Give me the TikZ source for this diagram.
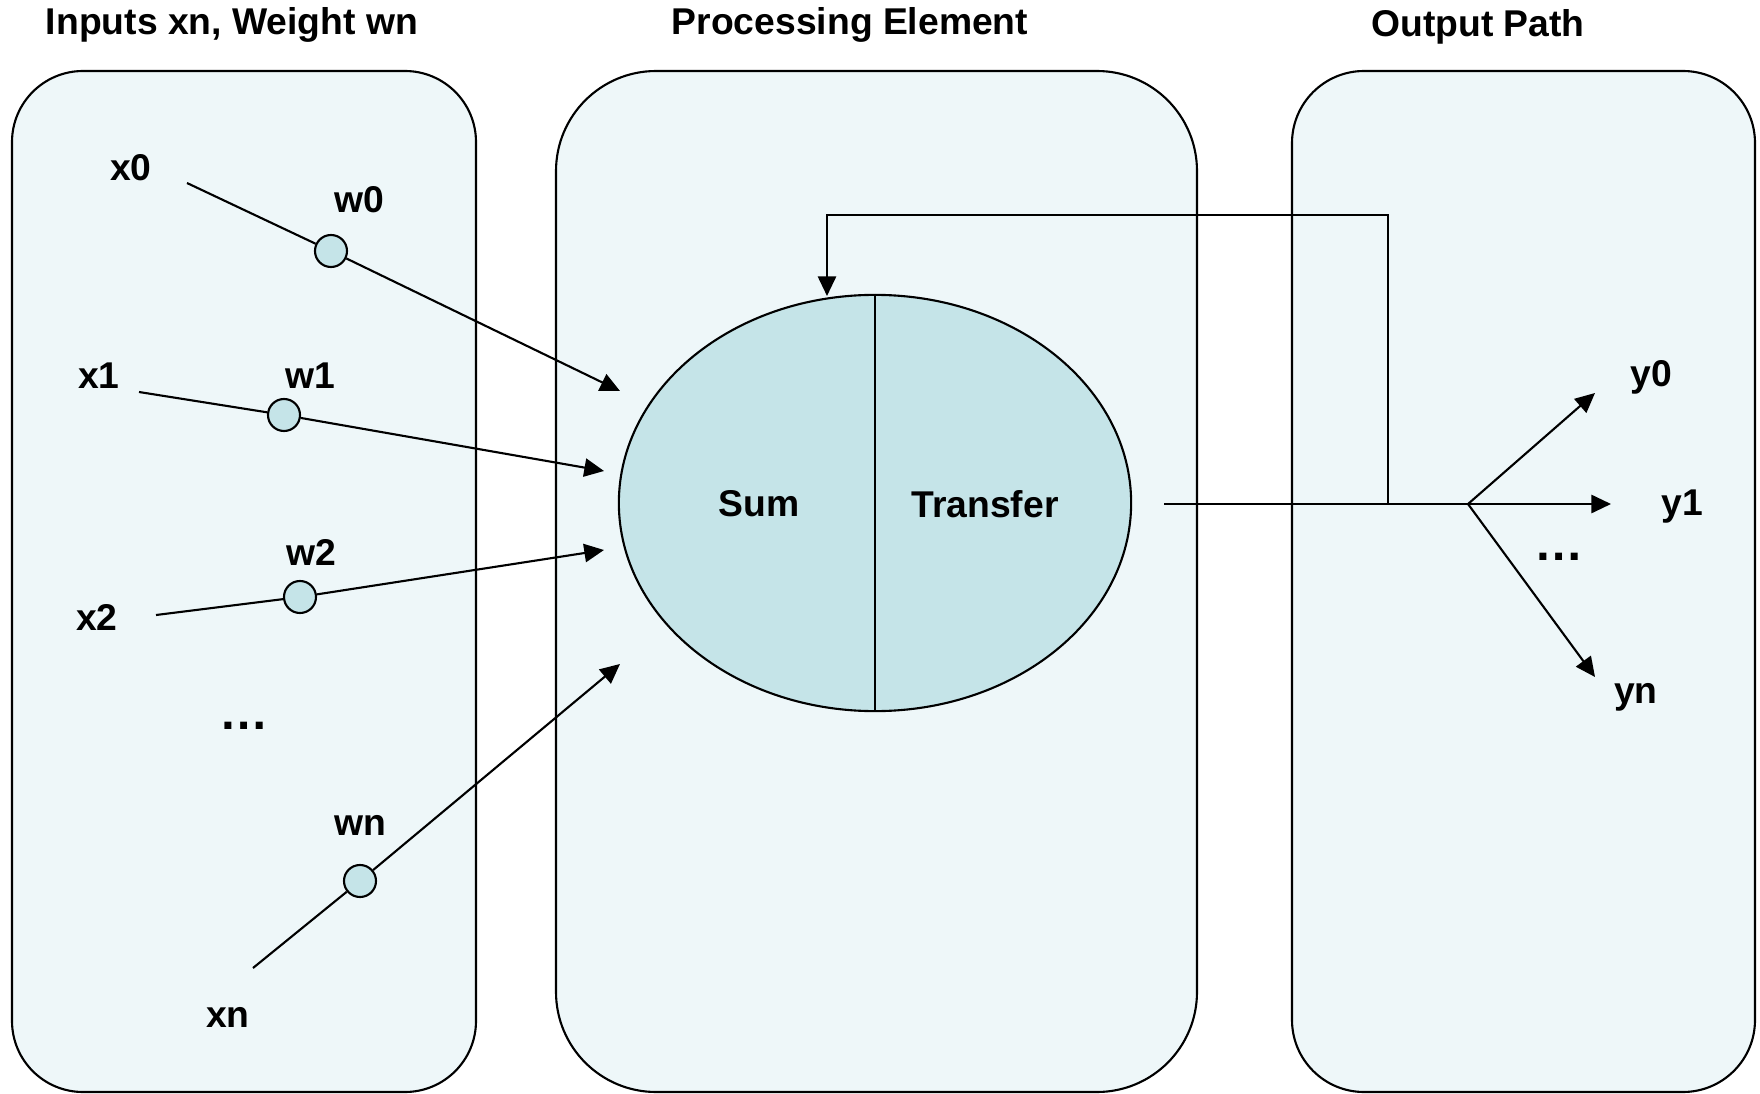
\documentclass[tikz,border=0pt]{standalone}
\usepackage{fontspec}
\setmainfont{Liberation Sans}
\usepackage{xcolor}
\usetikzlibrary{shapes.geometric,arrows.meta,calc}
\definecolor{panelfill}{RGB}{238,247,249}
\definecolor{cellfill}{RGB}{197,228,232}
\tikzset{
    panel/.style={draw, fill=panelfill},
    lbl/.style={font=\fontsize{10.6}{12}\selectfont\bfseries, inner sep=0pt},
    dots/.style={font=\fontsize{14}{16}\selectfont\bfseries, inner sep=0pt, anchor=base},
    wt/.style={draw, circle, fill=cellfill, inner sep=0pt, minimum size=0.32cm},
    tri/.tip={Triangle[length=5.6pt,width=5.2pt]}}

\begin{document}
\begin{tikzpicture}[x=0.01cm, y=-0.01cm, line width=0.6pt]
\useasboundingbox (0,0) rectangle (1760,1094);

%panels
\draw[panel, rounded corners=0.71cm] (12,71) rectangle (476,1092);
\draw[panel, rounded corners=1cm] (556,71) rectangle (1197,1092);
\draw[panel, rounded corners=0.72cm] (1292,71) rectangle (1755,1092);
\node[lbl] (tin) at (232,25) {Inputs xn, Weight wn};
\node[lbl] (tpe) at (850,25) {Processing Element};
\node[lbl] (tout) at (1478,27) {Output Path};

%processing element
\node[draw, ellipse, fill=cellfill, inner sep=0pt, minimum width=5.12cm, minimum height=4.16cm] (pe) at (875,503) {};
\draw (pe.north) -- (pe.south);
\node[lbl] (sum) at (759,504) {Sum};
\node[lbl] (transfer) at (985,504) {Transfer};

%inputs
\coordinate (s0) at (187,183);
\coordinate (s1) at (139,392);
\coordinate (s2) at (156,615);
\coordinate (sn) at (253,968);
\coordinate (e0) at (620,391);
\coordinate (e1) at (604,471);
\coordinate (e2) at (604,550);
\coordinate (en) at (620,664);

\node[lbl] (x0) at (131,168) {x0};
\node[lbl] (x1) at (99,376) {x1};
\node[lbl] (x2) at (97,617) {x2};
\node[lbl] (xn) at (228,1017) {xn};
\node[dots] (xdots) at (244,729) {…};

\node[wt] (w0) at (331,251) {};
\node[wt] (w1) at (284,415) {};
\node[wt] (w2) at (300,597) {};
\node[wt] (wn) at (360,881) {};
\node[lbl] (w0l) at (359,200) {w0};
\node[lbl] (w1l) at (310,376) {w1};
\node[lbl] (w2l) at (311,552) {w2};
\node[lbl] (wnl) at (360,825) {wn};

\draw (s0) -- (w0);
\draw (s1) -- (w1);
\draw (s2) -- (w2);
\draw (sn) -- (wn);
\draw [-tri](w0) -- (e0);
\draw [-tri](w1) -- (e1);
\draw [-tri](w2) -- (e2);
\draw [-tri](wn) -- (en);

%output path
\coordinate (ostart) at (1164,504);
\coordinate (fb) at (1388,504);
\coordinate (fbtop) at (827,215);
\coordinate (fbend) at (827,296);
\coordinate (br) at (1468,504);
\coordinate (y0e) at (1595,393);
\coordinate (y1e) at (1611,504);
\coordinate (yne) at (1595,677);
\draw (ostart) -- (br);
\draw [-tri](fb) |- (fbtop) -- (fbend);
\draw [-tri](br) -- (y0e);
\draw [-tri](br) -- (y1e);
\draw [-tri](br) -- (yne);
\node[lbl] (y0) at (1651,377) {y0};
\node[lbl] (y1) at (1682,507) {y1};
\node[lbl] (yn) at (1636,697) {yn};
\node[dots] (ydots) at (1559,560) {…};
\end{tikzpicture}
\end{document}
